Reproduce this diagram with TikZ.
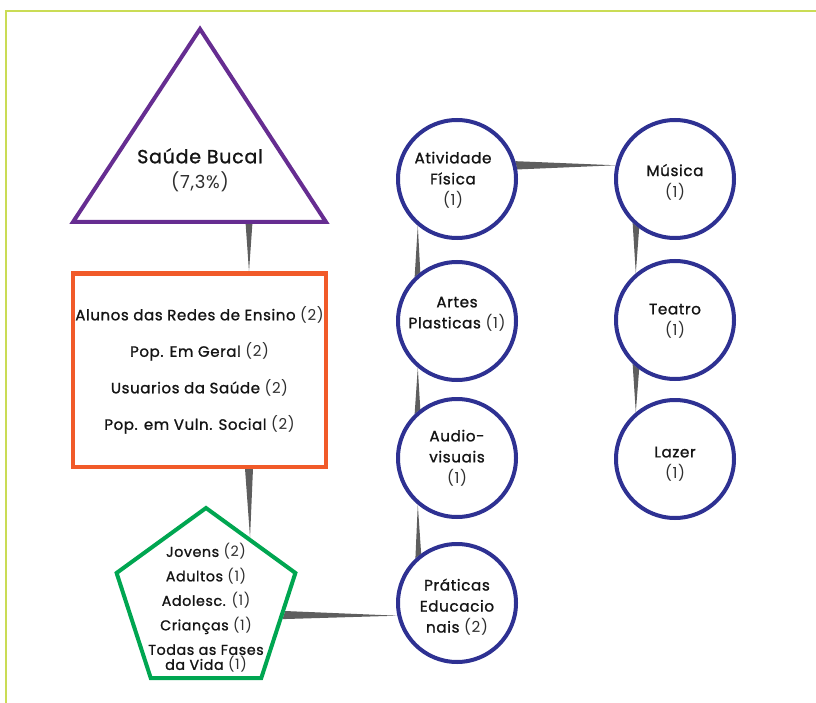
\documentclass[tikz,border=0pt]{standalone}
\usepackage{fontspec}
\setmainfont{Poppins}[LetterSpace=4]
\newfontfamily\labelfont{Poppins}[FakeBold=1.2, LetterSpace=4]
\newfontfamily\countfont{Poppins}[LetterSpace=4]
\usetikzlibrary{shapes.geometric,calc,backgrounds}

\definecolor{framegreen}{HTML}{CADC55}
\definecolor{trianglepurple}{HTML}{662D91}
\definecolor{boxorange}{HTML}{F15A29}
\definecolor{pentagreen}{HTML}{00A651}
\definecolor{circleblue}{HTML}{2E3192}
\definecolor{linkgray}{HTML}{5E5E5E}
\definecolor{ink}{HTML}{141414}
\definecolor{countink}{HTML}{2E2E2E}

\newcommand\cnt[1]{{\countfont\color{countink}#1}}

\tikzset{
  frame/.style={draw=framegreen, line width=2pt},
  shapeline/.style={line width=4pt, line join=miter},
  activity/.style={circle, draw=circleblue, shapeline, minimum size=118pt, inner sep=0pt},
  lbl/.style={font=\labelfont\fontsize{15.2}{21}\selectfont, align=center, text=ink, inner sep=0pt},
  link/.style={fill=linkgray, draw=none},
}

\begin{document}
\begin{tikzpicture}[x=1pt,y=-1pt]
\useasboundingbox (0,0) rectangle (816,703);

% outer frame (top and left edges)
\draw[frame] (816,11) -- (6,11) -- (6,703);

% theme triangle
\draw[shapeline, draw=trianglepurple]
  (200,29) coordinate (tri-apex) -- (326,222) coordinate (tri-right)
  -- (73,222) coordinate (tri-left) -- cycle;
\coordinate (tri-base) at (249,222);
\node[lbl, font=\labelfont\fontsize{19}{25}\selectfont] (tri-text) at (200,170)
  {Saúde Bucal\\\cnt{\fontsize{18}{25}\selectfont(7,3\%)}};

% target populations box
\node[draw=boxorange, shapeline, minimum width=253pt, minimum height=193pt,
      inner sep=0pt, lbl, font=\labelfont\fontsize{15}{36.5}\selectfont] (pop) at (199.5,370)
  {Alunos das Redes de Ensino \cnt{(2)}\\
   Pop. Em Geral \cnt{(2)}\\
   Usuarios da Saúde \cnt{(2)}\\
   Pop. em Vuln. Social \cnt{(2)}};

% age groups pentagon
\node[regular polygon, regular polygon sides=5, minimum size=188pt, inner sep=0pt,
      draw=pentagreen, shapeline] (ages) at (206,602) {};
\node[lbl, font=\labelfont\fontsize{14.3}{24.5}\selectfont] (ages-text) at (206,608)
  {Jovens \cnt{(2)}\\
   Adultos \cnt{(1)}\\
   Adolesc. \cnt{(1)}\\
   Crianças \cnt{(1)}\\
   Todas as Fases\\[-9.5pt]
   da Vida \cnt{(1)}};

% activity circles
\node[activity] (activ)  at (457,179) {};
\node[activity] (artes)  at (457,321) {};
\node[activity] (audio)  at (457,458) {};
\node[activity] (prat)   at (457,603) {};
\node[activity] (musica) at (675,179) {};
\node[activity] (teatro) at (675,320) {};
\node[activity] (lazer)  at (675,459) {};

\node[lbl] (activ-text)  at (453,180) {Atividade\\Física\\\cnt{(1)}};
\node[lbl] (artes-text)  at (457,314) {Artes\\Plasticas \cnt{(1)}};
\node[lbl] (audio-text)  at (457,458) {Audio-\\visuais\\\cnt{(1)}};
\node[lbl] (prat-text)   at (457,607) {Práticas\\Educacio\\nais \cnt{(2)}};
\node[lbl] (musica-text) at (675,182) {Música\\\cnt{(1)}};
\node[lbl] (teatro-text) at (675,321) {Teatro\\\cnt{(1)}};
\node[lbl] (lazer-text)  at (675,464) {Lazer\\\cnt{(1)}};

% tapered links, wide end at the source node
\begin{scope}[on background layer]
  \fill[link] ($(tri-base)+(-3.5,0)$) -- ($(tri-base)+(3.5,0)$)
    -- ($(pop.north)+(49.5,0)$) -- cycle;
  \fill[link] ($(pop.south)+(45.5,0)$) -- ($(pop.south)+(53.5,0)$)
    -- ($(ages.corner 1)!0.48!(ages.corner 5)$) -- cycle;
  \fill[link] ($(ages.corner 5)!0.36!(ages.corner 4)$)
    -- ($(ages.corner 5)!0.435!(ages.corner 4)$) -- (prat.192) -- cycle;
  \fill[link] (prat.126) -- (prat.133) -- (audio.230) -- cycle;
  \fill[link] (audio.127) -- (audio.134) -- (artes.230) -- cycle;
  \fill[link] (artes.127) -- (artes.134) -- (activ.230) -- cycle;
  \fill[link] (activ.9) -- (activ.17) -- (musica.167) -- cycle;
  \fill[link] (musica.226) -- (musica.234) -- (teatro.130) -- cycle;
  \fill[link] (teatro.226) -- (teatro.234) -- (lazer.130) -- cycle;
\end{scope}
\end{tikzpicture}
\end{document}
